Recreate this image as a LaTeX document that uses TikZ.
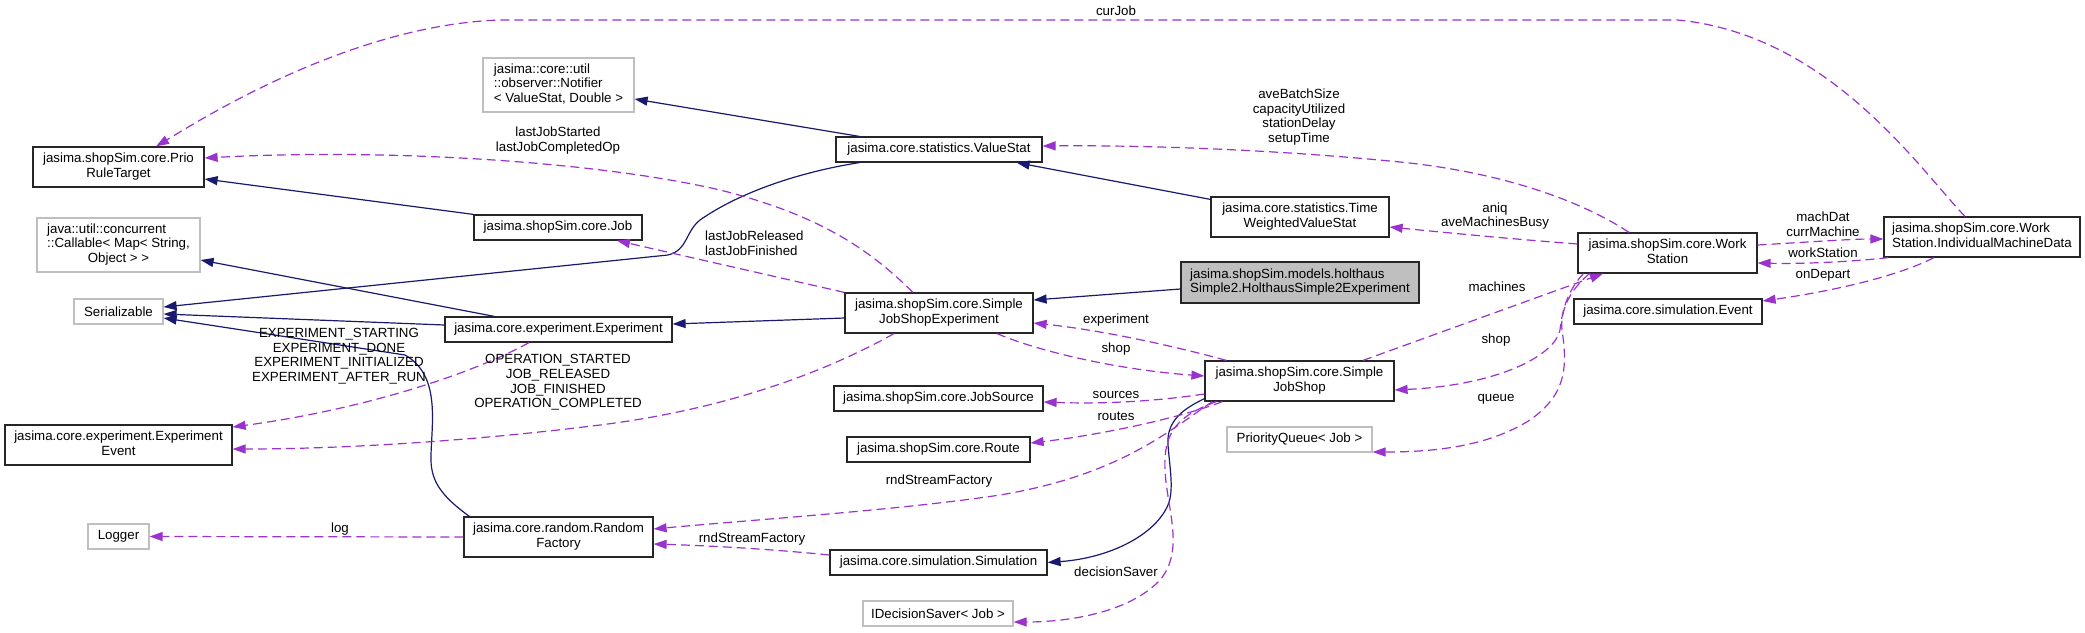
\documentclass[tikz,border=0pt]{standalone}
\usepackage{fontspec}
\setmainfont{Liberation Sans}
\usetikzlibrary{arrows.meta}
\definecolor{navyc}{HTML}{191970}
\definecolor{orch}{HTML}{9A32CD}
\definecolor{gbord}{HTML}{BFBFBF}
\definecolor{gfill}{HTML}{BFBFBF}
\newcommand\dfont{\fontsize{13.3}{14.6}\selectfont}
\newcommand\twol[2]{\begin{tabular}{@{}l@{}}#1\\\multicolumn{1}{@{}c@{}}{#2}\end{tabular}}
\newcommand\threel[3]{\begin{tabular}{@{}l@{}}#1\\#2\\\multicolumn{1}{@{}c@{}}{#3}\end{tabular}}
\begin{document}
\begin{tikzpicture}[x=1pt,y=-1pt,
  cls/.style={draw=black!85, line width=1.2pt, fill=white, inner sep=0pt, font=\dfont},
  ext/.style={cls, draw=gbord},
  inh/.style={navyc, line width=1.2pt, -{Triangle[length=13pt,width=9pt]}},
  use/.style={orch, line width=1.2pt, dash pattern=on 9pt off 5pt, -{Triangle[length=13pt,width=9pt]}},
  lbl/.style={font=\dfont, align=center, inner sep=0pt, text=black}]
\fill[white] (0,0) rectangle (2085,632);
\useasboundingbox (0,0) rectangle (2085,632);

% nodes
\node[cls, minimum width=171pt, minimum height=40pt] (prio) at (118.5,167) {\twol{jasima.shopSim.core.Prio}{RuleTarget}};
\node[ext, minimum width=151pt, minimum height=54pt] (notifier) at (558.5,85) {\threel{jasima::core::util}{::observer::Notifier}{< ValueStat, Double >}};
\node[ext, minimum width=163pt, minimum height=54pt] (callable) at (118.5,245) {\threel{java::util::concurrent}{::Callable< Map< String,}{Object > >}};
\node[ext, minimum width=89pt, minimum height=25pt] (serial) at (118.5,311.5) {Serializable};
\node[cls, minimum width=168pt, minimum height=25pt] (job) at (558,227.5) {jasima.shopSim.core.Job};
\node[cls, minimum width=227pt, minimum height=25pt] (exper) at (558.5,329.5) {jasima.core.experiment.Experiment};
\node[cls, minimum width=227pt, minimum height=40pt] (expevent) at (118.5,445) {\twol{jasima.core.experiment.Experiment}{Event}};
\node[ext, minimum width=61pt, minimum height=25pt] (logger) at (118.5,536.5) {Logger};
\node[cls, minimum width=189pt, minimum height=40pt] (random) at (558.5,537) {\twol{jasima.core.random.Random}{Factory}};
\node[cls, minimum width=206pt, minimum height=25pt] (valuestat) at (939,149.5) {jasima.core.statistics.ValueStat};
\node[cls, minimum width=178pt, minimum height=40pt] (twvs) at (1300,217) {\twol{jasima.core.statistics.Time}{WeightedValueStat}};
\node[cls, fill=gfill, minimum width=238pt, minimum height=41pt] (holthaus) at (1300,282.5) {\twol{jasima.shopSim.models.holthaus}{Simple2.HolthausSimple2Experiment}};
\node[cls, minimum width=188pt, minimum height=40pt] (sjse) at (939,313) {\twol{jasima.shopSim.core.Simple}{JobShopExperiment}};
\node[cls, minimum width=209pt, minimum height=25pt] (jobsource) at (938.5,398.5) {jasima.shopSim.core.JobSource};
\node[cls, minimum width=183pt, minimum height=25pt] (route) at (938.5,449.5) {jasima.shopSim.core.Route};
\node[cls, minimum width=217pt, minimum height=25pt] (simulation) at (938.5,562.5) {jasima.core.simulation.Simulation};
\node[ext, minimum width=150pt, minimum height=25pt] (idecision) at (938,613.5) {IDecisionSaver< Job >};
\node[cls, minimum width=189pt, minimum height=40pt] (sjs) at (1299.5,381) {\twol{jasima.shopSim.core.Simple}{JobShop}};
\node[ext, minimum width=145pt, minimum height=25pt] (pq) at (1299.5,439.5) {PriorityQueue< Job >};
\node[cls, minimum width=179pt, minimum height=40pt] (ws) at (1667.5,253) {\twol{jasima.shopSim.core.Work}{Station}};
\node[cls, minimum width=196pt, minimum height=40pt] (imd) at (1982,237) {\twol{jasima.shopSim.core.Work}{Station.IndividualMachineData}};
\node[cls, minimum width=188pt, minimum height=25pt] (event) at (1668,311.5) {jasima.core.simulation.Event};

% inheritance (solid navy)
\draw[inh] ([xshift=24pt]valuestat.north west) -- ([yshift=-14pt]notifier.east);
\draw[inh] ([yshift=-3pt]twvs.north west) -- ([xshift=-26pt]valuestat.south east);
\draw[inh] (job.north west) -- ([yshift=-12pt]prio.east);
\draw[inh] ([xshift=50pt]exper.north west) -- ([yshift=-15pt]callable.east);
\draw[inh] ([yshift=4.5pt]exper.west) -- ([yshift=-2.5pt]serial.east);
\draw[inh] ([xshift=24pt]valuestat.south west) .. controls (800,172) and (740,192) .. (700,220)
   .. controls (685,232) and (688,250) .. (668,255) -- ([yshift=4.5pt]serial.east);
\draw[inh] ([xshift=6pt]random.north west) .. controls (440,495) and (430,480) .. (431,455)
   .. controls (432,420) and (440,375) .. (405,355) -- ([yshift=-6.5pt]serial.east);
\draw[inh] ([yshift=-5pt]sjse.west) -- ([yshift=5.5pt]exper.east);
\draw[inh] ([yshift=-6.5pt]holthaus.west) -- ([yshift=13pt]sjse.east);
\draw[inh] ([yshift=3pt]sjs.south west) .. controls (1185,408) and (1166,420) .. (1168,445)
   .. controls (1170,470) and (1174,490) .. (1168,505)
   .. controls (1155,535) and (1110,558) .. (simulation.east);

% usage (dashed orchid)
\draw[use] ([xshift=-17pt]imd.north) .. controls (1920,170) and (1830,35) .. (1678,20)
   -- (500,20) .. controls (350,25) and (200,120) .. ([xshift=37.5pt]prio.north);
\draw[use] ([xshift=-26pt]sjse.north) .. controls (870,250) and (820,215) .. (720,190)
   .. controls (600,162) and (390,148) .. ([yshift=9pt]prio.east);
\draw[use] (sjse.north west) -- ([xshift=59pt]job.south);
\draw[use] ([xshift=-29.5pt]exper.south) .. controls (470,375) and (360,410) .. ([yshift=18pt]expevent.east);
\draw[use] ([xshift=-45pt]sjse.south) .. controls (820,375) and (720,410) .. (600,425)
   .. controls (480,440) and (350,449) .. ([yshift=-4pt]expevent.east);
\draw[use] ([xshift=-38.5pt]ws.north) .. controls (1580,200) and (1500,172) .. (1400,162)
   .. controls (1280,150) and (1150,145) .. ([yshift=3.5pt]valuestat.east);
\draw[use] ([yshift=9pt]ws.west) .. controls (1500,238) and (1440,232) .. ([yshift=-10pt]twvs.east);
\draw[use] ([xshift=22pt]sjs.north west) .. controls (1170,345) and (1100,330) .. ([yshift=-10pt]sjse.east);
\draw[use] ([xshift=58pt]sjse.south) .. controls (1040,352) and (1120,370) .. ([yshift=5pt]sjs.west);
\draw[use] ([yshift=-13pt]sjs.west) .. controls (1150,402) and (1100,404) .. ([yshift=-3.5pt]jobsource.east);
\draw[use] ([xshift=18pt]sjs.south west) .. controls (1180,418) and (1100,435) .. ([yshift=6.5pt]route.east);
\draw[use] ([xshift=8pt]sjs.south west) .. controls (1170,430) and (1120,475) .. (1000,495)
   .. controls (900,510) and (750,520) .. ([yshift=8pt]random.east);
\draw[use] ([yshift=7.5pt]simulation.west) .. controls (780,550) and (720,546) .. ([yshift=-7pt]random.east);
\draw[use] ([xshift=12pt]sjs.south west) .. controls (1180,415) and (1163,430) .. (1165,470)
   .. controls (1167,510) and (1185,550) .. (1160,580)
   .. controls (1130,612) and (1070,622) .. ([yshift=-8.5pt]idecision.east);
\draw[use] (random.west) -- (logger.east);
\draw[use] ([xshift=63.5pt]sjs.north) -- ([xshift=-64.5pt]ws.south);
\draw[use] ([xshift=6pt]ws.south west) .. controls (1568,290) and (1562,310) .. (1560,330)
   .. controls (1555,355) and (1500,385) .. ([yshift=-9pt]sjs.east);
\draw[use] ([xshift=12pt]ws.south west) .. controls (1570,290) and (1560,310) .. (1562,330)
   .. controls (1568,370) and (1565,395) .. (1530,420)
   .. controls (1490,445) and (1440,452) .. ([yshift=-12.5pt]pq.east);
\draw[use] ([yshift=8pt]ws.east) .. controls (1810,242) and (1850,239) .. ([yshift=-2pt]imd.west);
\draw[use] ([xshift=5pt]imd.south west) .. controls (1850,262) and (1800,264) .. ([yshift=-10pt]ws.east);
\draw[use] ([xshift=-48pt]imd.south) .. controls (1900,275) and (1840,290) .. ([yshift=10.5pt]event.east);

% labels
\node[lbl] (lcur) at (1116,11) {curJob};
\node[lbl] (lljs) at (558,140.5) {lastJobStarted\\lastJobCompletedOp};
\node[lbl, anchor=west, align=left] (lljr) at (705,243.5) {lastJobReleased\\lastJobFinished};
\node[lbl] (lexp) at (339,356) {EXPERIMENT\_STARTING\\EXPERIMENT\_DONE\\EXPERIMENT\_INITIALIZED\\EXPERIMENT\_AFTER\_RUN};
\node[lbl] (lop) at (558,382.5) {OPERATION\_STARTED\\JOB\_RELEASED\\JOB\_FINISHED\\OPERATION\_COMPLETED};
\node[lbl] (lave) at (1299,117) {aveBatchSize\\capacityUtilized\\stationDelay\\setupTime};
\node[lbl] (laniq) at (1495,216) {aniq\\aveMachinesBusy};
\node[lbl] (lexpr) at (1116,320) {experiment};
\node[lbl] (lshop1) at (1116,349) {shop};
\node[lbl] (lsrc) at (1116,395) {sources};
\node[lbl] (lrt) at (1116,416) {routes};
\node[lbl] (lrnd1) at (939,481) {rndStreamFactory};
\node[lbl] (lrnd2) at (752,539) {rndStreamFactory};
\node[lbl] (ldec) at (1116,572) {decisionSaver};
\node[lbl] (llog) at (340,529) {log};
\node[lbl] (lmach) at (1497,287) {machines};
\node[lbl] (lshop2) at (1496,340) {shop};
\node[lbl] (lq) at (1496,399) {queue};
\node[lbl] (lmd) at (1823,224) {machDat\\currMachine};
\node[lbl] (lws) at (1823,253) {workStation};
\node[lbl] (lod) at (1823,275) {onDepart};
\end{tikzpicture}
\end{document}
